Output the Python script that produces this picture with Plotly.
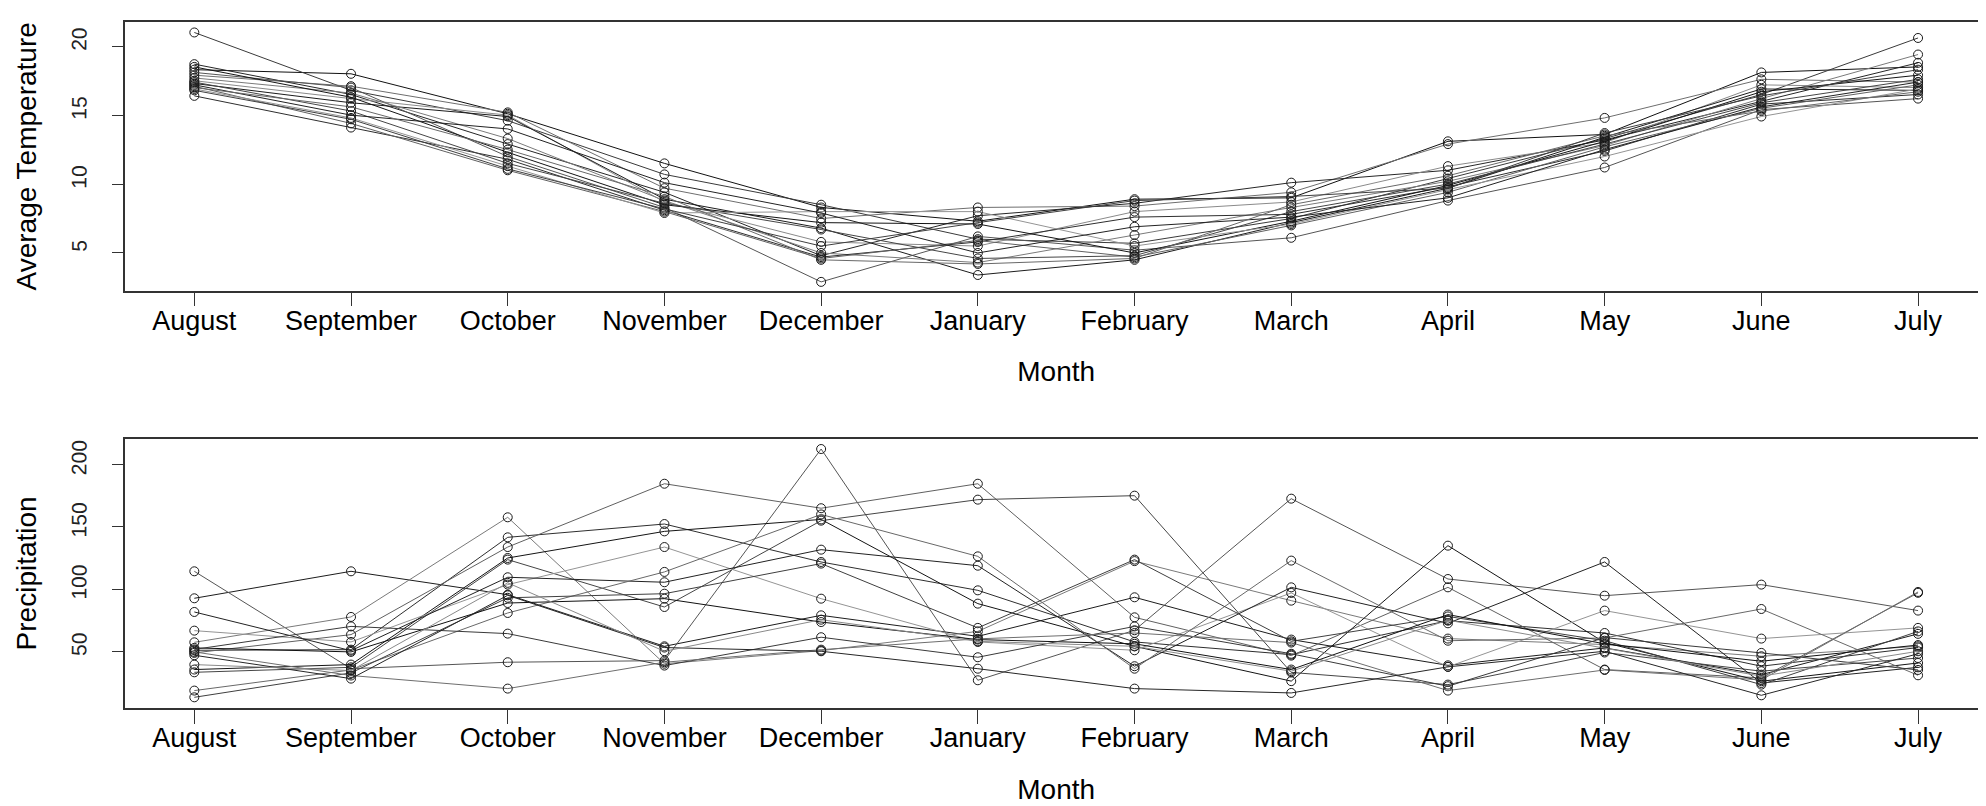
import plotly.graph_objects as go

months = ["August", "September", "October", "November", "December", "January",
          "February", "March", "April", "May", "June", "July"]
month_pos = list(range(1, 13))

temp_series = [
    [18.3, 18.0, 15.1, 11.5, 8.3, 7.3, 8.9, 9.0, 13.1, 13.6, 18.1, 18.5],
    [21.0, 16.8, 14.6, 10.7, 8.5, 6.0, 5.7, 7.5, 10.4, 13.3, 16.5, 20.6],
    [17.9, 17.1, 15.2, 9.7, 7.5, 8.3, 8.4, 9.4, 12.9, 14.8, 17.6, 17.4],
    [18.7, 16.5, 12.9, 9.4, 4.8, 7.7, 8.6, 10.1, 11.0, 13.2, 16.0, 18.8],
    [17.5, 16.2, 15.0, 8.7, 5.8, 5.5, 8.0, 8.7, 11.3, 13.0, 17.2, 17.0],
    [17.3, 15.9, 14.9, 8.9, 6.8, 3.4, 4.5, 7.2, 9.7, 13.4, 16.9, 16.8],
    [18.1, 17.0, 12.0, 8.3, 2.9, 6.2, 5.2, 6.1, 8.8, 11.2, 15.4, 16.2],
    [17.7, 16.6, 13.3, 8.8, 5.0, 4.3, 6.3, 8.3, 10.2, 12.8, 16.2, 19.4],
    [16.4, 14.1, 11.8, 8.1, 4.7, 5.8, 7.6, 7.8, 9.8, 12.4, 15.8, 16.5],
    [17.1, 14.4, 11.0, 8.0, 4.6, 5.9, 4.7, 7.0, 9.4, 12.7, 15.5, 17.2],
    [18.5, 16.3, 12.3, 8.5, 7.2, 7.1, 5.0, 7.3, 9.9, 13.1, 16.7, 17.9],
    [17.4, 15.3, 11.5, 8.6, 6.7, 4.6, 4.8, 8.0, 10.0, 12.9, 15.9, 17.6],
    [16.9, 14.8, 11.3, 7.9, 8.0, 8.0, 5.5, 7.1, 9.6, 12.0, 14.9, 16.9],
    [17.2, 15.0, 14.0, 10.1, 7.9, 5.0, 6.9, 7.6, 9.0, 12.5, 15.6, 17.4],
    [17.0, 15.6, 12.5, 9.1, 4.5, 4.2, 4.6, 8.5, 10.6, 13.5, 15.3, 16.7],
    [16.8, 14.7, 11.1, 8.2, 5.5, 7.2, 8.8, 9.1, 9.7, 13.7, 16.4, 18.3],
]

precip_series = [
    [92.6, 114.3, 95.5, 54.0, 78.9, 62.0, 93.4, 59.4, 38.7, 52.7, 31.2, 64.0],
    [114.3, 36.0, 41.2, 42.5, 212.6, 26.7, 66.9, 172.7, 108.1, 94.7, 103.6, 82.7],
    [57.2, 77.6, 157.7, 40.0, 50.5, 66.0, 122.5, 90.7, 60.2, 55.4, 46.0, 54.0],
    [50.8, 51.3, 141.6, 152.3, 121.8, 99.0, 57.5, 47.3, 74.6, 64.7, 38.0, 53.0],
    [48.7, 63.4, 133.8, 184.7, 165.0, 184.7, 77.3, 46.5, 101.4, 35.3, 28.6, 97.0],
    [35.3, 39.3, 125.0, 146.4, 156.0, 88.3, 54.0, 26.0, 134.9, 57.0, 25.9, 40.6],
    [33.1, 37.1, 123.7, 85.6, 155.0, 171.9, 175.1, 33.0, 23.2, 49.0, 34.0, 44.6],
    [66.6, 57.5, 103.6, 133.8, 92.3, 57.5, 50.8, 96.9, 37.5, 82.7, 60.2, 68.8],
    [81.6, 50.5, 109.5, 105.5, 131.7, 118.8, 38.0, 101.4, 72.5, 121.8, 24.5, 37.1],
    [18.4, 35.0, 80.8, 113.8, 160.0, 126.3, 36.0, 122.9, 58.5, 60.7, 84.0, 30.7],
    [13.0, 32.6, 93.0, 96.3, 120.5, 68.8, 123.7, 58.0, 78.0, 58.5, 23.2, 66.0],
    [52.7, 49.5, 88.8, 92.3, 73.5, 59.4, 56.0, 35.3, 79.5, 56.0, 42.0, 55.0],
    [51.5, 70.0, 64.2, 38.5, 61.3, 45.2, 70.0, 48.0, 21.9, 61.0, 48.7, 35.0],
    [49.5, 30.5, 20.0, 41.2, 51.3, 60.0, 64.7, 57.0, 18.4, 35.0, 27.0, 97.7],
    [46.8, 28.0, 95.0, 53.0, 50.0, 36.0, 20.0, 16.5, 37.5, 50.0, 14.6, 48.0],
    [39.3, 34.5, 105.0, 50.0, 75.4, 58.0, 54.0, 34.0, 75.0, 52.7, 30.0, 50.0],
]

line_greys = ["#111111", "#3a3a3a", "#6e6e6e", "#262626", "#8a8a8a", "#1c1c1c",
              "#555555", "#7a7a7a", "#2e2e2e", "#606060", "#141414", "#454545",
              "#949494", "#222222", "#686868", "#3f3f3f"]

temp_ticks = [5, 10, 15, 20]
precip_ticks = [50, 100, 150, 200]
temp_range = [2.26, 21.76]
precip_range = [4.4, 220.9]

fig = go.Figure()
for i, s in enumerate(temp_series):
    c = line_greys[i % len(line_greys)]
    fig.add_trace(go.Scatter(x=month_pos, y=s, mode="lines+markers", xaxis="x", yaxis="y",
                             line=dict(color=c, width=1),
                             marker=dict(symbol="circle-open", size=9, color="#1a1a1a",
                                         line=dict(width=1, color="#1a1a1a")),
                             showlegend=False, hoverinfo="skip"))
for i, s in enumerate(precip_series):
    c = line_greys[(i + 5) % len(line_greys)]
    fig.add_trace(go.Scatter(x=month_pos, y=s, mode="lines+markers", xaxis="x2", yaxis="y2",
                             line=dict(color=c, width=1),
                             marker=dict(symbol="circle-open", size=9, color="#1a1a1a",
                                         line=dict(width=1, color="#1a1a1a")),
                             showlegend=False, hoverinfo="skip"))

# empty carrier traces so the label-only axes get drawn
for xa, ya in [("x", "y3"), ("x", "y4"), ("x2", "y5"), ("x2", "y6")]:
    fig.add_trace(go.Scatter(x=[None], y=[None], xaxis=xa, yaxis=ya, mode="markers",
                             showlegend=False, hoverinfo="skip"))

W, H = 1986, 806
ml, mr, mt, mb = 0, 6.5, 14, 106
pw = W - ml - mr
ph = H - mt - mb
frame_left = 117.4

axis_font = dict(family="Liberation Sans, Arial, sans-serif", size=27, color="#000")
ytick_font = dict(family="Liberation Sans, Arial, sans-serif", size=21, color="#222")
title_font = dict(family="Liberation Sans, Arial, sans-serif", size=28, color="#000")

x_dom = [frame_left / pw, 1]

common_x = dict(range=[0.56, 12.44], tickvals=month_pos, ticktext=months, showgrid=False,
                zeroline=False, showline=True, mirror=True, linecolor="#333", linewidth=1.5,
                ticks="outside", ticklen=14, tickwidth=1.3, tickcolor="#333",
                tickfont=axis_font, automargin=False, ticklabelstandoff=-9, domain=x_dom)
common_y = dict(showgrid=False, zeroline=False, showline=True, mirror=True, linecolor="#333",
                linewidth=1.5, ticks="outside", ticklen=12, tickwidth=1.3, tickcolor="#333",
                showticklabels=False, automargin=False)

top_h = 268.7
bot_h = 269.3
top_dom = [1 - top_h / ph, 1]
bot_dom = [0, 1 - 416.7 / ph]

lab_pos = 68.0 / pw


def label_axis(base, rng, px_per_unit, shift_px, vals):
    d = shift_px / px_per_unit
    return dict(overlaying=base, anchor="free", position=lab_pos, side="left",
                range=[rng[0] - d, rng[1] - d], tickvals=vals, showgrid=False, zeroline=False,
                showline=False, ticks="", tickfont=ytick_font, tickangle=-89.5,
                automargin=False)


tpu = top_h / (temp_range[1] - temp_range[0])
ppu = bot_h / (precip_range[1] - precip_range[0])

fig.update_layout(
    width=W, height=H,
    margin=dict(l=ml, r=mr, t=mt, b=mb),
    paper_bgcolor="white", plot_bgcolor="white",
    xaxis=dict(common_x, anchor="y",
               title=dict(text="Month", font=title_font, standoff=27)),
    yaxis=dict(common_y, domain=top_dom, anchor="x", range=temp_range, tickvals=temp_ticks,
               title=dict(text="Average Temperature", font=title_font, standoff=67)),
    xaxis2=dict(common_x, anchor="y2",
                title=dict(text="Month", font=title_font, standoff=27)),
    yaxis2=dict(common_y, domain=bot_dom, anchor="x2", range=precip_range, tickvals=precip_ticks,
                title=dict(text="Precipitation", font=title_font, standoff=67)),
    yaxis3=label_axis("y", temp_range, tpu, 15.7, temp_ticks[1:]),
    yaxis4=label_axis("y", temp_range, tpu, 9.8, temp_ticks[:1]),
    yaxis5=label_axis("y2", precip_range, ppu, 21.5, precip_ticks[1:]),
    yaxis6=label_axis("y2", precip_range, ppu, 15.7, precip_ticks[:1]),
)

fig.write_html("out.html")
